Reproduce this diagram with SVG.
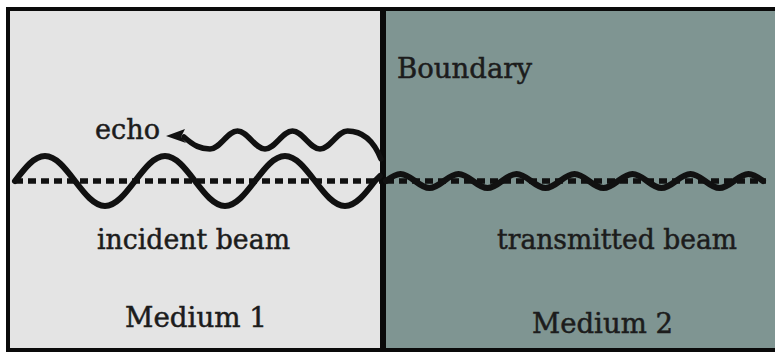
<svg xmlns="http://www.w3.org/2000/svg" width="775" height="353" viewBox="0 0 775 353">
  <style>
    .lbl { font-family: "DejaVu Serif", "Liberation Serif", serif; font-size: 27px; fill: #1c1c1c; stroke: #1c1c1c; stroke-width: 0.5; }
    .wave { fill: none; stroke: #111; stroke-linecap: round; stroke-linejoin: round; }
    .axis { fill: none; stroke: #111; stroke-width: 5.5; stroke-dasharray: 8 5; }
  </style>
  <rect x="0" y="0" width="775" height="353" fill="#ffffff"/>
  <g id="medium1">
    <rect x="8" y="9" width="375" height="341" fill="#e4e4e4"/>
    <text class="lbl" x="125" y="327" textLength="142" lengthAdjust="spacingAndGlyphs">Medium 1</text>
  </g>
  <g id="medium2">
    <rect x="383" y="9" width="400" height="341" fill="#7f9592"/>
    <text class="lbl" x="532" y="333" textLength="141" lengthAdjust="spacingAndGlyphs">Medium 2</text>
  </g>
  <g id="frame">
    <rect x="8" y="9" width="800" height="341" fill="none" stroke="#0a0a0a" stroke-width="4"/>
  </g>
  <g id="boundary">
    <line x1="383" y1="9" x2="383" y2="350" stroke="#0a0a0a" stroke-width="6"/>
    <text class="lbl" x="397" y="78" textLength="135" lengthAdjust="spacingAndGlyphs">Boundary</text>
  </g>
  <g id="connectors">
    <path class="axis" d="M15,181 H380 M386,181 H766"/>
    <path id="incident" class="wave" stroke-width="6" d="M15,181
      c 9.78,-12.81 19.14,-25 30,-25 c 10.86,0 20.22,12.19 30,25 c 9.78,12.81 19.14,25 30,25 c 10.86,0 20.22,-12.19 30,-25
      c 9.78,-12.81 19.14,-25 30,-25 c 10.86,0 20.22,12.19 30,25 c 9.78,12.81 19.14,25 30,25 c 10.86,0 20.22,-12.19 30,-25
      c 9.78,-12.81 19.14,-25 30,-25 c 10.86,0 20.22,12.19 30,25 c 9.78,12.81 19.14,25 30,25 c 10.86,0 20.22,-12.19 30,-25
      l 5,-5"/>
    <path id="echo" class="wave" stroke-width="5.5" d="M184,137 C 194,146 201,149 210,149
      c 4.98,0 9.27,-4.39 13.75,-9 c 4.48,-4.61 8.77,-9 13.75,-9 c 4.98,0 9.27,4.39 13.75,9 c 4.48,4.61 8.77,9 13.75,9
      c 4.98,0 9.27,-4.39 13.75,-9 c 4.48,-4.61 8.77,-9 13.75,-9 c 4.98,0 9.27,4.39 13.75,9 c 4.48,4.61 8.77,9 13.75,9
      c 4.98,0 9.27,-4.39 13.75,-9 c 4.48,-4.61 8.77,-9 13.75,-9
      C 365,131 375,144 381,159"/>
    <polygon id="echo-head" points="166,136 185,129 181,137 186,143" fill="#111"/>
    <path id="transmitted" class="wave" stroke-width="6" d="M386,181
      c 4.73,-3.59 9.25,-7 14.5,-7 c 5.25,0 9.77,3.41 14.5,7 c 4.73,3.59 9.25,7 14.5,7 c 5.25,0 9.77,-3.41 14.5,-7
      c 4.73,-3.59 9.25,-7 14.5,-7 c 5.25,0 9.77,3.41 14.5,7 c 4.73,3.59 9.25,7 14.5,7 c 5.25,0 9.77,-3.41 14.5,-7
      c 4.73,-3.59 9.25,-7 14.5,-7 c 5.25,0 9.77,3.41 14.5,7 c 4.73,3.59 9.25,7 14.5,7 c 5.25,0 9.77,-3.41 14.5,-7
      c 4.73,-3.59 9.25,-7 14.5,-7 c 5.25,0 9.77,3.41 14.5,7 c 4.73,3.59 9.25,7 14.5,7 c 5.25,0 9.77,-3.41 14.5,-7
      c 4.73,-3.59 9.25,-7 14.5,-7 c 5.25,0 9.77,3.41 14.5,7 c 4.73,3.59 9.25,7 14.5,7 c 5.25,0 9.77,-3.41 14.5,-7
      c 4.73,-3.59 9.25,-7 14.5,-7 c 5.25,0 9.77,3.41 14.5,7 c 4.73,3.59 9.25,7 14.5,7 c 5.25,0 9.77,-3.41 14.5,-7
      c 4.73,-3.59 9.25,-7 14.5,-7 c 5.25,0 9.77,3.41 14.5,7"/>
  </g>
  <g id="labels">
    <text class="lbl" x="95" y="139" textLength="65" lengthAdjust="spacingAndGlyphs">echo</text>
    <text class="lbl" x="97" y="249" textLength="193" lengthAdjust="spacingAndGlyphs">incident beam</text>
    <text class="lbl" x="497" y="249" textLength="240" lengthAdjust="spacingAndGlyphs">transmitted beam</text>
  </g>
</svg>
